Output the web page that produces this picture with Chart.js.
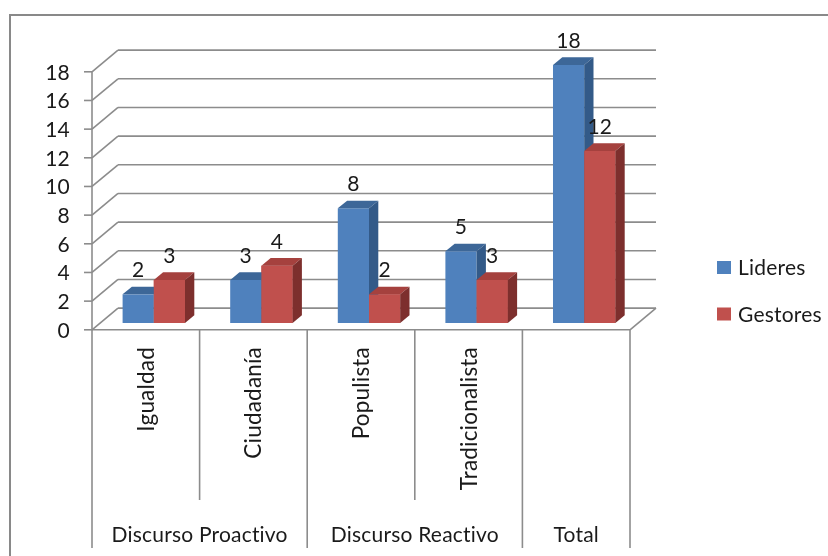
<!DOCTYPE html>
<html>
<head>
<meta charset="utf-8">
<script src="https://cdn.jsdelivr.net/npm/chart.js@4.4.1/dist/chart.umd.min.js"></script>
<style>
    html, body { margin: 0; padding: 0; background: #fff; }
    canvas { display: block; }
</style>
</head>
<body>
<canvas id="myChart" width="828" height="556"></canvas>
<script>
// Chart data
const categories = ['Igualdad', 'Ciudadanía', 'Populista', 'Tradicionalista', ''];
const groups = ['Discurso Proactivo', 'Discurso Reactivo', 'Total'];
const groupSpans = [2, 2, 1];
const lideres = [2, 3, 8, 5, 18];
const gestores = [3, 4, 2, 3, 12];
const yTicks = [0, 2, 4, 6, 8, 10, 12, 14, 16, 18];

// Look of the fake 3D box
const FONT = '21px Lato, "Open Sans", sans-serif';
const CAT_FONT = '22.5px Lato, "Open Sans", sans-serif';
const TEXT = '#1a1a1a';
const GRID = '#8c8c8c';
const FRONT = { dx: -8, dy: 6.8 };    // front plane, relative to the bar plane
const BACK = { dx: 18, dy: -14.9 };   // back wall, relative to the bar plane
const DEPTH = { dx: 9.3, dy: 7.7 };   // depth of a bar
const shades = [
    { top: '#3d6798', side: '#335a88' },
    { top: '#a5413e', side: '#7d2f2d' },
];

const line = (ctx, x1, y1, x2, y2) => {
    ctx.beginPath();
    ctx.moveTo(x1, y1);
    ctx.lineTo(x2, y2);
    ctx.stroke();
};

const fill = (ctx, pts, color) => {
    ctx.beginPath();
    ctx.moveTo(pts[0][0], pts[0][1]);
    pts.slice(1).forEach(p => ctx.lineTo(p[0], p[1]));
    ctx.closePath();
    ctx.fillStyle = color;
    ctx.fill();
};

// top and side faces of one bar
const drawFaces = (ctx, bar, shade) => {
    const { x, y, base, width } = bar.getProps(['x', 'y', 'base', 'width'], true);
    const x0 = x - width / 2;
    const x1 = x + width / 2;
    fill(ctx, [[x0, y], [x1, y], [x1 + DEPTH.dx, y - DEPTH.dy], [x0 + DEPTH.dx, y - DEPTH.dy]], shade.top);
    fill(ctx, [[x1, y], [x1 + DEPTH.dx, y - DEPTH.dy], [x1 + DEPTH.dx, base - DEPTH.dy], [x1, base]], shade.side);
};

const chart3d = {
    id: 'chart3d',
    beforeDraw(chart) {
        // outer frame (cut by the picture on the right and bottom)
        const ctx = chart.ctx;
        ctx.save();
        ctx.strokeStyle = '#898989';
        ctx.lineWidth = 2;
        line(ctx, 10, 15, chart.width + 2, 15);
        line(ctx, 10, 14, 10, chart.height + 2);
        ctx.restore();
    },
    beforeDatasetsDraw(chart) {
        const ctx = chart.ctx;
        const x = chart.scales.x;
        const y = chart.scales.y;
        const fl = x.left + FRONT.dx;
        const fr = x.right + FRONT.dx;
        ctx.save();
        ctx.strokeStyle = GRID;
        ctx.lineWidth = 1.6;

        // gridlines on side and back wall
        yTicks.forEach(v => {
            const py = y.getPixelForValue(v);
            line(ctx, fl, py + FRONT.dy, x.left + BACK.dx, py + BACK.dy);
            line(ctx, x.left + BACK.dx, py + BACK.dy, x.right + BACK.dx, py + BACK.dy);
            // tick mark on front axis
            line(ctx, fl - 8, py + FRONT.dy, fl, py + FRONT.dy);
        });

        // floor and front axes
        const y0 = y.getPixelForValue(0);
        line(ctx, fl, y0 + FRONT.dy, fr, y0 + FRONT.dy);
        line(ctx, fr, y0 + FRONT.dy, x.right + BACK.dx, y0 + BACK.dy);
        line(ctx, fl, y.getPixelForValue(yTicks[yTicks.length - 1]) + FRONT.dy, fl, y0 + FRONT.dy);

        // category dividers below the axis
        const step = (x.right - x.left) / categories.length;
        const groupEdges = [0];
        groupSpans.reduce((acc, n) => { groupEdges.push(acc + n); return acc + n; }, 0);
        for (let i = 0; i <= categories.length; i++) {
            const px = fl + i * step;
            const full = groupEdges.includes(i);
            line(ctx, px, y0 + FRONT.dy, px, full ? 548 : 500);
        }

        // y tick labels
        ctx.font = FONT;
        ctx.letterSpacing = '0.2px';
        ctx.fillStyle = TEXT;
        ctx.textAlign = 'right';
        ctx.textBaseline = 'alphabetic';
        yTicks.forEach(v => {
            ctx.fillText(String(v), fl - 22, y.getPixelForValue(v) + FRONT.dy + 8);
        });

        // rotated category labels
        ctx.font = CAT_FONT;
        categories.forEach((c, i) => {
            const cx = x.getPixelForValue(i) + FRONT.dx;
            ctx.save();
            ctx.translate(cx + 8, 347);
            ctx.rotate(-Math.PI / 2);
            ctx.textAlign = 'right';
            ctx.fillText(c, 0, 0);
            ctx.restore();
        });

        // group labels
        ctx.font = FONT;
        ctx.textAlign = 'center';
        groups.forEach((g, i) => {
            const a = fl + groupEdges[i] * step;
            const b = fl + groupEdges[i + 1] * step;
            ctx.fillText(g, (a + b) / 2, 542);
        });
        ctx.restore();
    },
    afterDatasetsDraw(chart) {
        const ctx = chart.ctx;
        const metas = chart.data.datasets.map((ds, i) => chart.getDatasetMeta(i));
        ctx.save();

        // 3D faces, left bar first so the right one sits in front of its side
        categories.forEach((c, j) => {
            metas.forEach((meta, i) => {
                const bar = meta.data[j];
                if (i > 0) bar.draw(ctx);
                drawFaces(ctx, bar, shades[i]);
            });
        });

        ctx.font = FONT;
        ctx.letterSpacing = '0.2px';
        ctx.fillStyle = TEXT;
        ctx.textAlign = 'center';
        ctx.textBaseline = 'alphabetic';

        // value labels
        chart.data.datasets.forEach((ds, i) => {
            metas[i].data.forEach((bar, j) => {
                ctx.fillText(String(ds.data[j]), bar.x, bar.y - 17);
            });
        });

        // legend
        ctx.textAlign = 'left';
        chart.data.datasets.forEach((ds, i) => {
            const top = 261 + i * 46.5;
            ctx.fillStyle = ds.backgroundColor;
            ctx.fillRect(717, top, 14, 13);
            ctx.fillStyle = TEXT;
            ctx.fillText(ds.label, 738, top + 14);
        });
        ctx.restore();
    },
};

let barChart = null;

const init = () => {
    const ctx = document.getElementById('myChart').getContext('2d');
    barChart = new Chart(ctx, {
        type: 'bar',
        data: {
            labels: categories,
            datasets: [
                { label: 'Lideres', data: lideres, backgroundColor: '#4f81bd' },
                { label: 'Gestores', data: gestores, backgroundColor: '#c0504d' },
            ],
        },
        options: {
            responsive: false,
            animation: false,
            devicePixelRatio: 1,
            layout: { padding: { left: 100, right: 190, top: 65, bottom: 233 } },
            datasets: { bar: { categoryPercentage: 0.58, barPercentage: 1, borderWidth: 0 } },
            scales: {
                x: { display: false },
                y: {
                    display: false,
                    min: yTicks[0],
                    max: yTicks[yTicks.length - 1],
                    ticks: { stepSize: 2 },
                },
            },
            plugins: {
                legend: { display: false },
                tooltip: { enabled: false },
            },
        },
        plugins: [chart3d],
    });
};

document.addEventListener('DOMContentLoaded', () => {
    document.fonts.load(FONT).then(init, init);
});
</script>
</body>
</html>
